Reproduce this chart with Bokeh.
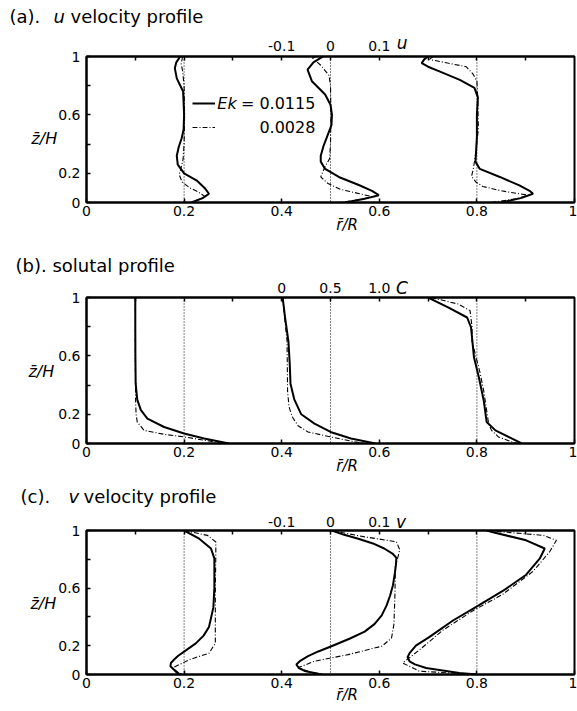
import numpy as np
from bokeh.plotting import figure
from bokeh.layouts import column
from bokeh.models import Label, LinearAxis, FixedTicker, Span, Legend, LegendItem, Range1d
from bokeh.embed import file_html
from bokeh.resources import INLINE

FONT = "DejaVu Sans"

# ---------------- data ----------------
r_cols = [0.2, 0.5, 0.8]          # radial stations (dotted reference lines)
ek_labels = ["0.0115", "0.0028"]

x_ticks = [0, 0.2, 0.4, 0.6, 0.8, 1.0]
x_tick_labels = ["0", "0.2", "0.4", "0.6", "0.8", "1"]
y_ticks = [0, 0.2, 0.4, 0.6, 0.8, 1.0]
y_tick_labels = ["0", "0.2", "", "0.6", "", "1"]
top_ticks = [0.1, 0.2, 0.3, 0.4, 0.5, 0.6, 0.7, 0.8, 0.9]
u_top_labels = ["", "", "", "-0.1", "0", "0.1", "", "", ""]
c_top_labels = ["", "", "", "0", "0.5", "1.0", "", "", ""]
v_top_labels = ["", "", "", "-0.1", "0", "0.1", "", "", ""]

U_SCALE = 1.0   # u of 0.1 spans 0.1 in r/R
C_SCALE = 0.2   # C of 1.0 spans 0.2 in r/R
V_SCALE = 1.0

# (a) u velocity, Ek = 0.0115
u_z_ek1 = [
    [1.0, 0.96, 0.92, 0.85, 0.76, 0.6, 0.5, 0.44, 0.38, 0.32, 0.26, 0.2, 0.15, 0.1, 0.06, 0.03, 0.0],
    [1.0, 0.96, 0.91, 0.83, 0.74, 0.67, 0.6, 0.53, 0.46, 0.39, 0.32, 0.28, 0.23, 0.175, 0.12, 0.08, 0.05, 0.025, 0.0],
    [1.0, 0.98, 0.955, 0.93, 0.9, 0.84, 0.785, 0.72, 0.6, 0.45, 0.33, 0.28, 0.23, 0.175, 0.117, 0.08, 0.06, 0.03, 0.0],
]
u_ek1 = [
    [-0.008, -0.016, -0.019, -0.015, -0.002, 0.0, -0.001, -0.005, -0.011, -0.015, -0.013, 0.0, 0.026, 0.042, 0.051, 0.038, 0.015],
    [-0.015, -0.035, -0.047, -0.038, -0.011, 0.0, 0.003, 0.002, -0.006, -0.014, -0.02, -0.02, -0.011, 0.017, 0.058, 0.085, 0.099, 0.07, 0.03],
    [-0.1, -0.108, -0.113, -0.1, -0.078, -0.035, -0.005, 0.002, 0.0, 0.0, -0.002, -0.003, 0.006, 0.047, 0.087, 0.108, 0.115, 0.09, 0.05],
]
# (a) u velocity, Ek = 0.0028
u_z_ek2 = [
    [1.0, 0.95, 0.9, 0.8, 0.6, 0.4, 0.3, 0.24, 0.19, 0.14, 0.1, 0.07, 0.04, 0.02, 0.0],
    [1.0, 0.99, 0.94, 0.87, 0.8, 0.6, 0.4, 0.3, 0.24, 0.175, 0.13, 0.09, 0.06, 0.04, 0.02, 0.0],
    [1.0, 0.98, 0.955, 0.93, 0.88, 0.83, 0.7, 0.5, 0.3, 0.22, 0.18, 0.14, 0.11, 0.08, 0.05, 0.025, 0.0],
]
u_ek2 = [
    [-0.003, -0.006, -0.003, 0.0, 0.001, 0.0, -0.002, -0.006, -0.01, -0.004, 0.012, 0.03, 0.043, 0.03, 0.01],
    [-0.03, -0.037, -0.02, -0.003, 0.0, 0.001, 0.0, -0.002, -0.012, -0.02, -0.005, 0.02, 0.06, 0.085, 0.06, 0.02],
    [-0.09, -0.097, -0.06, -0.022, -0.008, 0.0, 0.002, 0.003, -0.004, -0.008, -0.011, -0.002, 0.012, 0.05, 0.105, 0.08, 0.03],
]

# (b) solute concentration C, Ek = 0.0115
c_z_ek1 = [
    [1.0, 0.8, 0.6, 0.41, 0.3, 0.23, 0.17, 0.113, 0.068, 0.034, 0.0],
    [1.0, 0.86, 0.7, 0.55, 0.41, 0.3, 0.2, 0.136, 0.079, 0.034, 0.0],
    [1.0, 0.93, 0.863, 0.795, 0.59, 0.454, 0.295, 0.147, 0.09, 0.034, 0.0],
]
c_ek1 = [
    [0.0, 0.0, 0.001, 0.004, 0.02, 0.056, 0.124, 0.295, 0.5, 0.705, 0.96],
    [0.01, 0.035, 0.069, 0.082, 0.09, 0.13, 0.2, 0.336, 0.5, 0.71, 0.96],
    [0.0, 0.21, 0.4, 0.44, 0.47, 0.52, 0.57, 0.6, 0.69, 0.86, 0.96],
]
# (b) solute concentration C, Ek = 0.0028
c_z_ek2 = [
    [1.0, 0.6, 0.3, 0.2, 0.147, 0.09, 0.063, 0.045, 0.011, 0.0],
    [1.0, 0.86, 0.7, 0.5, 0.36, 0.25, 0.18, 0.12, 0.079, 0.045, 0.011, 0.0],
    [1.0, 0.955, 0.91, 0.8, 0.7, 0.477, 0.36, 0.136, 0.09, 0.045, 0.01, 0.0],
]
c_ek2 = [
    [0.0, 0.0, 0.003, 0.008, 0.02, 0.09, 0.295, 0.5, 0.81, 0.9],
    [0.01, 0.03, 0.055, 0.058, 0.06, 0.075, 0.11, 0.17, 0.27, 0.5, 0.75, 0.85],
    [0.03, 0.31, 0.43, 0.45, 0.45, 0.535, 0.57, 0.62, 0.65, 0.72, 0.86, 0.92],
]

# (c) v velocity, Ek = 0.0115
v_z_ek1 = [
    [1.0, 0.943, 0.875, 0.806, 0.73, 0.6, 0.466, 0.33, 0.27, 0.216, 0.159, 0.13, 0.102, 0.08, 0.057, 0.011, 0.0],
    [1.0, 0.97, 0.943, 0.91, 0.875, 0.84, 0.81, 0.76, 0.707, 0.62, 0.547, 0.48, 0.411, 0.35, 0.298, 0.25, 0.196, 0.16, 0.127, 0.095, 0.07, 0.045, 0.025, 0.0],
    [1.0, 0.988, 0.932, 0.875, 0.806, 0.693, 0.58, 0.477, 0.375, 0.261, 0.2, 0.148, 0.12, 0.091, 0.07, 0.045, 0.011, 0.0],
]
v_ek1 = [
    [0.0, 0.031, 0.055, 0.062, 0.062, 0.062, 0.06, 0.051, 0.04, 0.024, 0.0, -0.012, -0.021, -0.027, -0.028, -0.014, -0.007],
    [0.003, 0.028, 0.057, 0.087, 0.11, 0.127, 0.135, 0.134, 0.132, 0.128, 0.122, 0.115, 0.105, 0.09, 0.07, 0.04, 0.002, -0.025, -0.046, -0.062, -0.07, -0.065, -0.053, -0.018],
    [0.02, 0.033, 0.101, 0.139, 0.129, 0.101, 0.053, 0.002, -0.049, -0.097, -0.125, -0.138, -0.142, -0.138, -0.127, -0.104, -0.036, 0.0],
]
# (c) v velocity, Ek = 0.0028
v_z_ek2 = [
    [1.0, 0.966, 0.92, 0.83, 0.6, 0.4, 0.216, 0.148, 0.102, 0.045, 0.01, 0.0],
    [1.0, 0.99, 0.956, 0.922, 0.866, 0.75, 0.55, 0.35, 0.252, 0.196, 0.138, 0.093, 0.048, 0.014, 0.0],
    [1.0, 0.99, 0.966, 0.932, 0.852, 0.716, 0.557, 0.443, 0.307, 0.17, 0.08, 0.023, 0.007, 0.0],
]
v_ek2 = [
    [0.0, 0.048, 0.065, 0.065, 0.064, 0.064, 0.064, 0.051, 0.01, -0.024, -0.01, 0.0],
    [0.0, 0.016, 0.07, 0.135, 0.142, 0.133, 0.132, 0.13, 0.125, 0.105, 0.036, -0.032, -0.066, -0.039, -0.01],
    [0.02, 0.053, 0.136, 0.163, 0.149, 0.115, 0.053, -0.008, -0.07, -0.118, -0.152, -0.118, -0.036, 0.0],
]

# ---------------- helpers ----------------
W = 577
BL, BR = 86, 3          # left / right borders -> frame spans 86..574 px


def style_axis(ax, ticks, labels, standoff):
    ax.ticker = FixedTicker(ticks=ticks)
    ax.major_label_overrides = {t: l for t, l in zip(ticks, labels)}
    ax.major_tick_in = 4
    ax.major_tick_out = 0
    ax.minor_tick_in = 0
    ax.minor_tick_out = 0
    ax.axis_line_width = 2
    ax.axis_line_color = "black"
    ax.major_tick_line_width = 1.5
    ax.major_tick_line_color = "black"
    ax.major_label_text_font = FONT
    ax.major_label_text_font_size = "14px"
    ax.major_label_text_color = "black"
    ax.major_label_standoff = standoff


def add_text(p, x, y, text, size, style="normal", align="left", baseline="middle", place=None):
    lab = Label(x=x, y=y, text=text, text_font=FONT, text_font_size=size,
                text_font_style=style, text_align=align, text_baseline=baseline,
                text_color="black")
    if place is None:
        p.add_layout(lab)
    else:
        p.add_layout(lab, place)


def make_title(height, pieces, y_mid):
    # strip whose x coordinate is page pixels; frame aligned with the panels
    frame_h = height - 24
    t = figure(width=W, height=height, x_range=Range1d(BL, W - BR), y_range=Range1d(0, frame_h),
               output_backend="svg", toolbar_location=None, x_axis_type=None, y_axis_type=None,
               min_border_left=BL, min_border_right=BR, min_border_top=24, min_border_bottom=0,
               background_fill_color="white", border_fill_color="white")
    t.grid.visible = False
    t.outline_line_color = None
    for x, text, style, place in pieces:
        add_text(t, x, y_mid, text, "18px", style, place=place)
    return t


def make_panel(height, b_top, b_bottom, z1, vals1, z2, vals2, scale, offset, top_labels, top_standoff):
    p = figure(width=W, height=height, x_range=Range1d(0, 1), y_range=Range1d(0, 1),
               output_backend="svg", toolbar_location=None,
               min_border_left=BL, min_border_right=BR,
               min_border_top=b_top, min_border_bottom=b_bottom,
               background_fill_color="white", border_fill_color="white")
    p.grid.visible = False
    p.outline_line_color = "black"
    p.outline_line_width = 2
    p.outline_line_alpha = 1.0
    style_axis(p.xaxis[0], x_ticks, x_tick_labels, 3)
    style_axis(p.yaxis[0], y_ticks, y_tick_labels, 6)
    top = LinearAxis()
    style_axis(top, top_ticks, top_labels, top_standoff)
    p.add_layout(top, "above")
    for r0 in r_cols:
        p.add_layout(Span(location=r0, dimension="height", line_color="black",
                          line_width=1, line_dash="1 2"))
    solid, dashed = [], []
    for i, r0 in enumerate(r_cols):
        x1 = r0 + scale * (np.asarray(vals1[i]) - offset)
        x2 = r0 + scale * (np.asarray(vals2[i]) - offset)
        solid.append(p.line(x1, z1[i], line_color="black", line_width=2))
        dashed.append(p.line(x2, z2[i], line_color="black", line_width=1.1,
                             line_dash="5 2 1 2"))
    return p, solid, dashed


# ---------------- panel (a) ----------------
ta = make_title(28, [(9, "(a). ", "normal", "left"), (53, "u", "italic", "left"),
                     (70, "velocity profile", "normal", "above")], 12)
pa, sa, da = make_panel(212, 28, 38, u_z_ek1, u_ek1, u_z_ek2, u_ek2, U_SCALE, 0.0, u_top_labels, 6)
add_text(pa, 0.636, 1.093, "u", "17px", "italic", place="left")
add_text(pa, -0.113, 0.44, "z\u0304/H", "16px", "italic", place="left")
add_text(pa, 0.512, -0.151, "r\u0304/R", "15px", "italic", place="below")
legend = Legend(items=[LegendItem(label=" ", renderers=[sa[0]]),
                       LegendItem(label=" ", renderers=[da[0]])],
                location=(106, 65), orientation="vertical", glyph_width=23, glyph_height=20,
                spacing=4, padding=0, margin=0, label_standoff=0, label_width=0,
                label_text_font_size="8px", border_line_alpha=0, background_fill_alpha=0)
pa.add_layout(legend)
add_text(pa, 0.268, 0.678, "Ek", "16px", "italic")
add_text(pa, 0.469, 0.678, "= " + ek_labels[0], "16px", align="right")
add_text(pa, 0.469, 0.514, ek_labels[1], "16px", align="right")

# ---------------- panel (b) ----------------
tb = make_title(35, [(15, "(b). solutal profile", "normal", "above")], 10)
pb, sb, db = make_panel(206, 22, 38, c_z_ek1, c_ek1, c_z_ek2, c_ek2, C_SCALE, 0.5, c_top_labels, 5)
add_text(pb, 0.634, 1.068, "C", "17px", "italic", place="left")
add_text(pb, -0.119, 0.49, "z\u0304/H", "16px", "italic", place="left")
add_text(pb, 0.512, -0.151, "r\u0304/R", "15px", "italic", place="below")

# ---------------- panel (c) ----------------
tc = make_title(28, [(20, "(c). ", "normal", "left"), (68, "v", "italic", "left"),
                     (83, "velocity profile", "normal", "above")], 13)
pc, sc, dc = make_panel(202, 21, 37, v_z_ek1, v_ek1, v_z_ek2, v_ek2, V_SCALE, 0.0, v_top_labels, 4)
add_text(pc, 0.634, 1.06, "v", "17px", "italic", place="left")
add_text(pc, -0.115, 0.49, "z\u0304/H", "16px", "italic", place="left")
add_text(pc, 0.512, -0.14, "r\u0304/R", "15px", "italic", place="below")

layout = column(ta, pa, tb, pb, tc, pc, spacing=0)
open("out.html", "w").write(file_html(layout, INLINE))
